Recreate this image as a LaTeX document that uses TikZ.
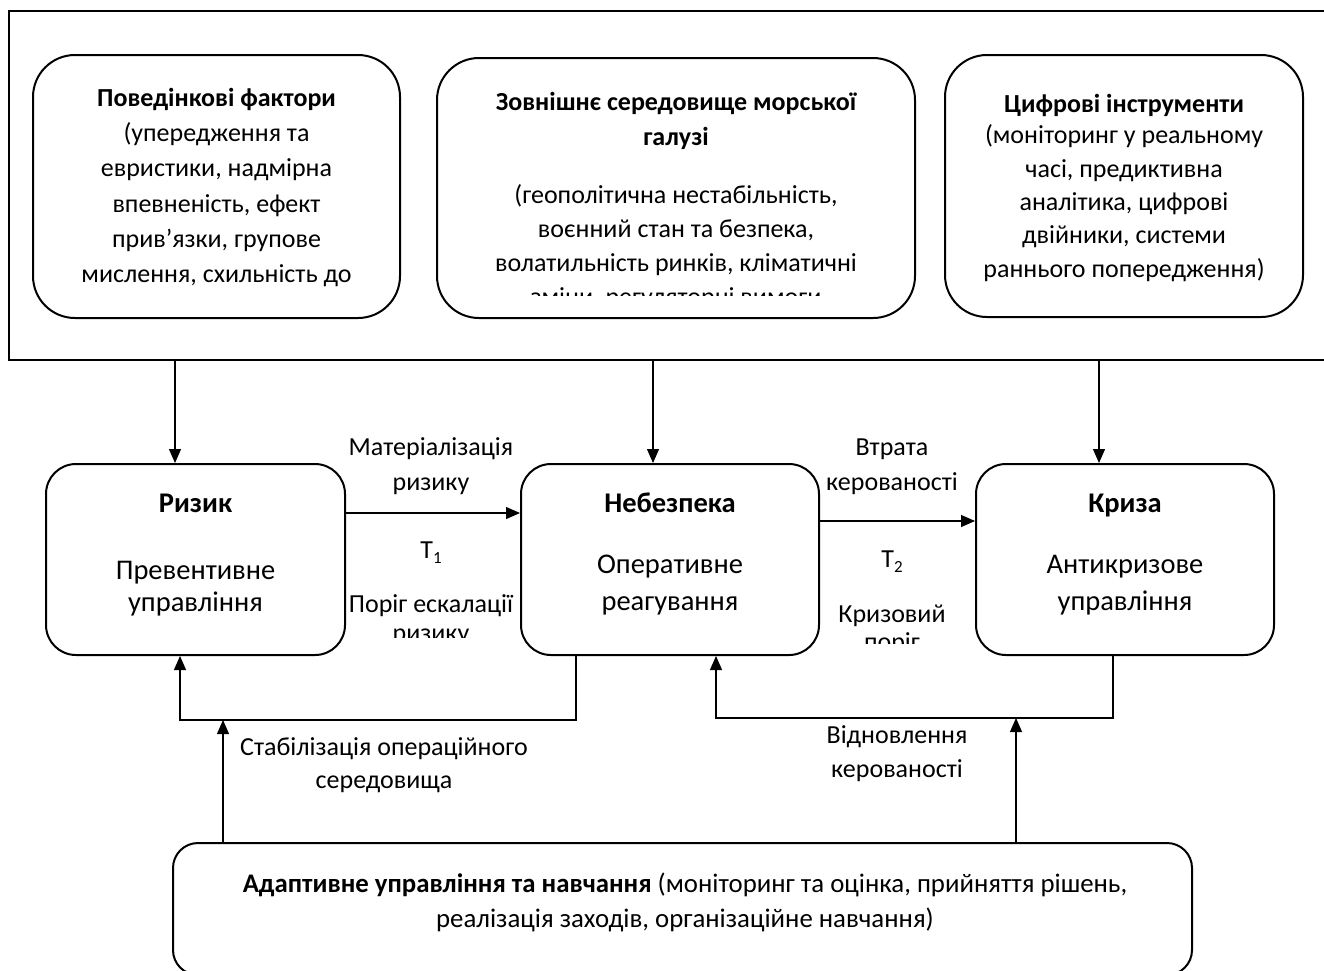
\documentclass[tikz,border=0pt]{standalone}
\usepackage{fontspec}
\setmainfont{Carlito}
\usetikzlibrary{arrows.meta}
\begin{document}
\begin{tikzpicture}[x=1pt,y=-1pt,
  boxline/.style={draw, line width=2pt, inner sep=0pt},
  topbox/.style={boxline, rounded corners=42pt},
  midbox/.style={boxline, rounded corners=30pt},
  botbox/.style={boxline, rounded corners=25pt},
  conn/.style={line width=1.1pt},
  arr/.style={conn, -{Triangle[length=14pt,width=12pt]}},
  t/.style={inner sep=0pt, anchor=base},
  ftop/.style={t, font=\fontsize{26}{30}\selectfont},
  ftopb/.style={t, font=\fontsize{26}{30}\selectfont\bfseries},
  fmid/.style={t, font=\fontsize{28.5}{32}\selectfont},
  fmidb/.style={t, font=\fontsize{28.5}{32}\selectfont\bfseries},
  flab/.style={t, font=\fontsize{26}{30}\selectfont},
  fbot/.style={t, font=\fontsize{26.8}{30}\selectfont}
]
\useasboundingbox (0,0) rectangle (1324,970);
\clip (0,0) rectangle (1324,970);

% outer frame and top boxes
\node[boxline, minimum width=1331pt, minimum height=349pt] (env) at (674.5,185.5) {};
\node[topbox, minimum width=367pt, minimum height=263pt] (beh) at (216.5,186.5) {};
\node[topbox, minimum width=478pt, minimum height=260pt] (ext) at (676,188) {};
\node[topbox, minimum width=358pt, minimum height=262pt] (dig) at (1124,186) {};

% middle boxes
\node[midbox, minimum width=299pt, minimum height=191pt] (r) at (195.5,559.5) {};
\node[midbox, minimum width=298pt, minimum height=191pt] (n) at (670,559.5) {};
\node[midbox, minimum width=298pt, minimum height=191pt] (k) at (1125,559.5) {};

% bottom box
\node[botbox, minimum width=1019pt, minimum height=132pt] (ad) at (682.5,909) {};

% texts of top boxes
\node[ftopb] (beh1) at (216.5,106) {Поведінкові фактори};
\node[ftop] (beh2) at (216.5,141) {(упередження та};
\node[ftop] (beh3) at (216.5,176) {евристики, надмірна};
\node[ftop] (beh4) at (216.5,212) {впевненість, ефект};
\node[ftop] (beh5) at (216.5,247) {прив’язки, групове};
\node[ftop] (beh6) at (216.5,282) {мислення, схильність до};

\node[ftopb] (ext1) at (676,110) {Зовнішнє середовище морської};
\node[ftopb] (ext2) at (676,145) {галузі};
\node[ftop] (ext3) at (676,203) {(геополітична нестабільність,};
\node[ftop] (ext4) at (676,237) {воєнний стан та безпека,};
\node[ftop] (ext5) at (676,271) {волатильність ринків, кліматичні};
\begin{scope}
\clip (440,280) rectangle (912,295.5);
\node[ftop] (ext6) at (676,305) {зміни, регуляторні вимоги};
\end{scope}

\node[ftopb] (dig1) at (1124,112) {Цифрові інструменти};
\node[ftop] (dig2) at (1124,143) {(моніторинг у реальному};
\node[ftop] (dig3) at (1124,177) {часі, предиктивна};
\node[ftop] (dig4) at (1124,210) {аналітика, цифрові};
\node[ftop] (dig5) at (1124,243) {двійники, системи};
\node[ftop] (dig6) at (1124,277) {раннього попередження)};

% texts of middle boxes
\node[fmidb] (r1) at (195.5,512) {Ризик};
\node[fmid] (r2) at (195.5,579) {Превентивне};
\node[fmid] (r3) at (195.5,611) {управління};
\node[fmidb] (n1) at (670,512) {Небезпека};
\node[fmid] (n2) at (670,573) {Оперативне};
\node[fmid] (n3) at (670,610) {реагування};
\node[fmidb] (k1) at (1125,512) {Криза};
\node[fmid] (k2) at (1125,573) {Антикризове};
\node[fmid] (k3) at (1125,610) {управління};

% labels between boxes
\node[flab] (m1) at (431,455) {Матеріалізація};
\node[flab] (m2) at (431,490) {ризику};
\node[flab] (t1) at (431,558) {T\raisebox{-0.22em}{\fontsize{17}{17}\selectfont 1}};
\node[flab] (p1) at (431,612) {Поріг ескалації};
\begin{scope}
\clip (350,620) rectangle (515,637);
\node[flab] (p2) at (431,641) {ризику};
\end{scope}

\node[flab] (v1) at (892,455) {Втрата};
\node[flab] (v2) at (892,490) {керованості};
\node[flab] (t2) at (892,567) {T\raisebox{-0.22em}{\fontsize{17}{17}\selectfont 2}};
\node[flab] (c1) at (892,622) {Кризовий};
\begin{scope}
\clip (825,628) rectangle (970,643);
\node[flab] (c2) at (892,650) {поріг};
\end{scope}

\node[flab] (s1) at (384,755) {Стабілізація операційного};
\node[flab] (s2) at (384,788) {середовища};
\node[flab] (o1) at (897,743) {Відновлення};
\node[flab] (o2) at (897,777) {керованості};

% bottom text
\node[fbot] (ad1) at (685,892) {\textbf{Адаптивне управління та навчання} (моніторинг та оцінка, прийняття рішень,};
\node[fbot] (ad2) at (685,927) {реалізація заходів, організаційне навчання)};

% connectors from the environment frame
\draw[arr] ([xshift=-20.5pt]r.north |- env.south) -- ([xshift=-20.5pt]r.north);
\draw[arr] ([xshift=-17pt]n.north |- env.south) -- ([xshift=-17pt]n.north);
\draw[arr] ([xshift=-26pt]k.north |- env.south) -- ([xshift=-26pt]k.north);

% escalation arrows
\draw[arr] ([yshift=46.5pt]r.east) -- ([yshift=46.5pt]r.east -| n.west);
\draw[arr] ([yshift=38.5pt]n.east) -- ([yshift=38.5pt]n.east -| k.west);

% feedback loops
\coordinate (fb1) at (180,720);
\coordinate (fa1) at (223,720);
\draw[arr] ([xshift=-94pt]n.south) |- (fb1) -- (fb1 |- r.south);
\draw[arr] (fa1 |- ad.north) -- (fa1);

\coordinate (fb2) at (716,718);
\coordinate (fa2) at (1016,718);
\draw[arr] ([xshift=-12pt]k.south) |- (fb2) -- (fb2 |- n.south);
\draw[arr] (fa2 |- ad.north) -- (fa2);
\end{tikzpicture}
\end{document}
